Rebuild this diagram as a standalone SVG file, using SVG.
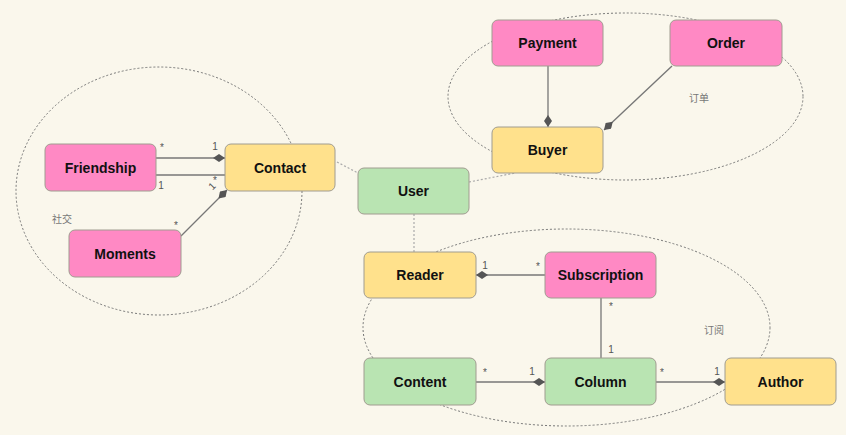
<svg xmlns="http://www.w3.org/2000/svg" width="846" height="435" viewBox="0 0 846 435">
<style>
.n rect{stroke:#a09c90;stroke-width:1}
.pink rect{fill:#ff89c4}
.yellow rect{fill:#ffe18c}
.green rect{fill:#b9e4b2}
.n text{font-family:"Liberation Sans",Arial,sans-serif;font-size:14px;font-weight:bold;fill:#111;text-anchor:middle;dominant-baseline:central}
.grp{fill:none;stroke:#777;stroke-width:1;stroke-dasharray:2 2}
.dot{fill:none;stroke:#aaa;stroke-width:1.2;stroke-dasharray:2 2}
.ln{fill:none;stroke:#777;stroke-width:1.3}
.lbl{font-family:"Liberation Sans",Arial,sans-serif;font-size:10px;fill:#555;text-anchor:middle;dominant-baseline:central}
.glbl{font-family:"Noto Sans CJK SC",sans-serif;font-size:10px;fill:#777;text-anchor:middle;dominant-baseline:central}
</style>
<defs>
<marker id="dia" viewBox="0 0 12 8" refX="12" refY="4" markerWidth="12" markerHeight="8" markerUnits="userSpaceOnUse" orient="auto">
<path d="M0,4 L6,0 L12,4 L6,8 Z" fill="#555"/>
</marker>
</defs>
<rect width="846" height="435" fill="#faf7ec"/>
<g id="groups">
<ellipse class="grp" cx="159" cy="191" rx="143" ry="124"/>
<text class="glbl" x="62" y="218">社交</text>
<ellipse class="grp" cx="625.5" cy="96.5" rx="177.5" ry="83.5"/>
<text class="glbl" x="699" y="97">订单</text>
<ellipse class="grp" cx="566.5" cy="327.5" rx="203.5" ry="98.5"/>
<text class="glbl" x="714" y="329">订阅</text>
</g>
<g id="connectors">
<line class="dot" x1="337" y1="162" x2="358" y2="173"/>
<line class="dot" x1="469" y1="182" x2="515" y2="173"/>
<line class="dot" x1="414" y1="214" x2="414" y2="252"/>
<line class="ln" x1="156" y1="158" x2="225" y2="158" marker-end="url(#dia)"/>
<line class="ln" x1="156" y1="175" x2="225" y2="175"/>
<line class="ln" x1="181" y1="236" x2="227" y2="190" marker-end="url(#dia)"/>
<line class="ln" x1="548" y1="66" x2="548" y2="127" marker-end="url(#dia)"/>
<line class="ln" x1="672" y1="66" x2="604" y2="130" marker-end="url(#dia)"/>
<line class="ln" x1="545" y1="275" x2="476" y2="275" marker-end="url(#dia)"/>
<line class="ln" x1="601" y1="298" x2="601" y2="358"/>
<line class="ln" x1="476" y1="382" x2="545" y2="382" marker-end="url(#dia)"/>
<line class="ln" x1="656" y1="382" x2="725" y2="382" marker-end="url(#dia)"/>
<text class="lbl" x="162" y="147">*</text>
<text class="lbl" x="215" y="146">1</text>
<text class="lbl" x="161" y="185">1</text>
<text class="lbl" x="215" y="180">*</text>
<text class="lbl" x="212" y="186" transform="rotate(-45 212 186)">1</text>
<text class="lbl" x="176" y="225">*</text>
<text class="lbl" x="485" y="265">1</text>
<text class="lbl" x="538" y="266">*</text>
<text class="lbl" x="611" y="306">*</text>
<text class="lbl" x="611" y="349">1</text>
<text class="lbl" x="485" y="372">*</text>
<text class="lbl" x="532" y="371">1</text>
<text class="lbl" x="662" y="372">*</text>
<text class="lbl" x="717" y="371">1</text>
</g>
<g id="Friendship" class="n pink"><rect x="45" y="144" width="111" height="47" rx="6"/><text x="100.5" y="167.5">Friendship</text></g>
<g id="Contact" class="n yellow"><rect x="225" y="144" width="110" height="47" rx="6"/><text x="280" y="167.5">Contact</text></g>
<g id="Moments" class="n pink"><rect x="69" y="230" width="112" height="47" rx="6"/><text x="125" y="253.5">Moments</text></g>
<g id="Payment" class="n pink"><rect x="492" y="20" width="111" height="46" rx="6"/><text x="547.5" y="43">Payment</text></g>
<g id="Order" class="n pink"><rect x="670" y="20" width="112" height="46" rx="6"/><text x="726" y="43">Order</text></g>
<g id="Buyer" class="n yellow"><rect x="492" y="127" width="111" height="46" rx="6"/><text x="547.5" y="150">Buyer</text></g>
<g id="User" class="n green"><rect x="358" y="168" width="111" height="46" rx="6"/><text x="413.5" y="191">User</text></g>
<g id="Reader" class="n yellow"><rect x="364" y="252" width="112" height="46" rx="6"/><text x="420" y="275">Reader</text></g>
<g id="Subscription" class="n pink"><rect x="545" y="252" width="111" height="46" rx="6"/><text x="600.5" y="275">Subscription</text></g>
<g id="Content" class="n green"><rect x="364" y="358" width="112" height="47" rx="6"/><text x="420" y="381.5">Content</text></g>
<g id="Column" class="n green"><rect x="545" y="358" width="111" height="47" rx="6"/><text x="600.5" y="381.5">Column</text></g>
<g id="Author" class="n yellow"><rect x="725" y="358" width="111" height="47" rx="6"/><text x="780.5" y="381.5">Author</text></g>
</svg>
